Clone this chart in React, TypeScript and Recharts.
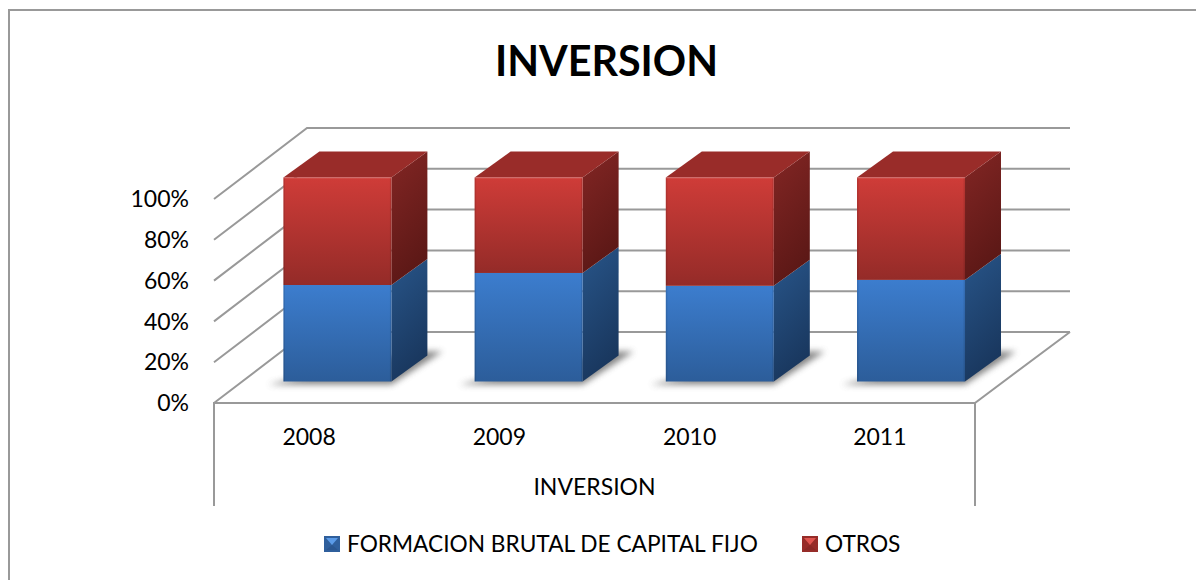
import React from "react";
import { BarChart, Bar, XAxis, YAxis, CartesianGrid, Legend } from "recharts";

const years = ["2008", "2009", "2010", "2011"];
const formacion = [47.3, 53.2, 46.9, 49.8];
const otros = [52.7, 46.8, 53.1, 50.2];
const yTicks = [0, 20, 40, 60, 80, 100];
const seriesNames = ["FORMACION BRUTAL DE CAPITAL FIJO", "OTROS"];
const titleText = "INVERSION";
const axisTitle = "INVERSION";

const rows = years.map((y, i) => ({ year: y, formacion: formacion[i], otros: otros[i] }));

const FONT = "Lato, Carlito, 'Open Sans', sans-serif";
const LINE = "#999999";
// Perspective of the box: wall depth, and how far into it the bars stand.
const WALL_DX = 93;
const WALL_DY = 71;
const BAR_SHIFT_X = 28.5;
const BAR_SHIFT_Y = 21.5;
const BAR_SPREAD = 0.005;
const BAR_DX = 36;
const BAR_DY = 26;

function Box(props: any) {
  const { x, y, width, height, tone, top } = props;
  const X = x + BAR_SHIFT_X + (x - 255) * BAR_SPREAD;
  const Y = y - BAR_SHIFT_Y;
  const R = X + width;
  const B = Y + height;
  return (
    <g>
      {tone === "blue" && (
        <polygon
          points={`${X - 15},${B + 3} ${R},${B + 3} ${R + BAR_DX + 15},${B - BAR_DY - 4} ${R + BAR_DX - 10},${B - BAR_DY - 4}`}
          fill="#666666"
          opacity={0.8}
          filter="url(#shadowBlur)"
        />
      )}
      <polygon
        points={`${R},${Y} ${R + BAR_DX},${Y - BAR_DY} ${R + BAR_DX},${B - BAR_DY} ${R},${B}`}
        fill={`url(#${tone}Side)`}
      />
      {top && (
        <polygon
          points={`${X},${Y} ${X + BAR_DX},${Y - BAR_DY} ${R + BAR_DX},${Y - BAR_DY} ${R},${Y}`}
          fill="#992c29"
        />
      )}
      <rect x={X} y={Y} width={width} height={height} fill={`url(#${tone}Front)`} />
      <rect x={X} y={Y} width={1.5} height={height} fill="#000" opacity={0.1} />
      <rect x={R - 1.5} y={Y} width={1.5} height={height} fill="#000" opacity={0.1} />
      {top && <rect x={X} y={Y} width={width} height={1.5} fill="#ffffff" opacity={0.08} />}
    </g>
  );
}

const BlueBox = (p: any) => <Box {...p} tone="blue" />;
const RedBox = (p: any) => <Box {...p} tone="red" top />;

function WallLine(props: any) {
  const { x1, y1, x2, y2, index } = props;
  const isFloor = index === 0 || Math.abs(y1 - props.offset?.top - props.offset?.height) < 0.5;
  return (
    <g>
      <polyline
        points={`${x1},${y1} ${x1 + WALL_DX},${y1 - WALL_DY} ${x2 + WALL_DX + 2},${y2 - WALL_DY}`}
        fill="none"
        stroke={LINE}
        strokeWidth={2}
      />
      {isFloor && (
        <polyline
          points={`${x1},${y1 + 103} ${x1},${y1} ${x2},${y1} ${x2},${y1 + 103} ${x2},${y1} ${x2 + WALL_DX + 2},${y1 - WALL_DY}`}
          fill="none"
          stroke={LINE}
          strokeWidth={2}
        />
      )}
    </g>
  );
}

function LegendSwatch({ c1, c2, c3 }: { c1: string; c2: string; c3: string }) {
  return (
    <svg width={16} height={16} style={{ marginRight: 7, flex: "none" }}>
      <rect width={16} height={16} fill={c2} />
      <polygon points="2,2 14,2 8,9" fill={c1} />
      <polygon points="2,14 14,14 8,9" fill={c3} />
    </svg>
  );
}

function LegendBody() {
  return (
    <div style={{ display: "flex", alignItems: "center", fontFamily: FONT, fontSize: 22.7, color: "#000", whiteSpace: "nowrap" }}>
      <LegendSwatch c1="#5b9be8" c2="#2f5f9c" c3="#2a5690" />
      <span style={{ display: "inline-block", width: 455 }}>{seriesNames[0]}</span>
      <LegendSwatch c1="#e05550" c2="#962c29" c3="#8a2826" />
      <span>{seriesNames[1]}</span>
    </div>
  );
}

export default function App() {
  return (
    <div style={{ position: "absolute", left: 0, top: 0, width: 1196, height: 580, background: "#fff", overflow: "hidden" }}>
      <div style={{ position: "absolute", left: 8, top: 9, width: 1188, height: 571, borderLeft: "2px solid #999", borderTop: "2px solid #999", boxSizing: "border-box" }} />
      <div style={{ position: "absolute", left: 0, width: 1213, top: 34, textAlign: "center", fontFamily: FONT, fontWeight: 700, fontSize: 41.3, lineHeight: "52px", color: "#000" }}>
        {titleText}
      </div>
      <div style={{ position: "absolute", left: 0, top: 0 }}>
        <BarChart
          width={1196}
          height={580}
          data={rows}
          barCategoryGap="21.5%"
          margin={{ left: 154, right: 221, top: 199, bottom: 90 }}
        >
          <defs>
            <linearGradient id="blueFront" x1="0" y1="0" x2="0" y2="1">
              <stop offset="0" stopColor="#3c7dce" />
              <stop offset="1" stopColor="#2c5d9a" />
            </linearGradient>
            <linearGradient id="redFront" x1="0" y1="0" x2="0" y2="1">
              <stop offset="0" stopColor="#cf3c38" />
              <stop offset="1" stopColor="#942b28" />
            </linearGradient>
            <linearGradient id="blueSide" x1="0" y1="0" x2="0.3" y2="1">
              <stop offset="0" stopColor="#285589" />
              <stop offset="1" stopColor="#19375e" />
            </linearGradient>
            <linearGradient id="redSide" x1="0" y1="0" x2="0.3" y2="1">
              <stop offset="0" stopColor="#832624" />
              <stop offset="1" stopColor="#5c1816" />
            </linearGradient>
            <filter id="shadowBlur" x="-30%" y="-50%" width="160%" height="200%">
              <feGaussianBlur stdDeviation="3" />
            </filter>
          </defs>
          <CartesianGrid vertical={false} horizontal={(p: any) => <WallLine {...p} />} />
          <XAxis
            dataKey="year"
            axisLine={false}
            tickLine={false}
            height={60}
            tickMargin={20}
            interval={0}
            tick={{ fill: "#000", fontSize: 23, fontFamily: FONT }}
            label={{ value: axisTitle, position: "insideBottom", offset: -32, fill: "#000", fontSize: 23, fontFamily: FONT }}
          />
          <YAxis
            width={60}
            domain={[0, 100]}
            ticks={yTicks}
            tickFormatter={(v: number) => `${v}%`}
            axisLine={false}
            tickLine={false}
            tickMargin={19}
            interval={0}
            tick={{ fill: "#000", fontSize: 23, fontFamily: FONT }}
          />
          <Legend content={<LegendBody />} wrapperStyle={{ position: "absolute", left: 324, top: 530, width: "auto", bottom: "auto" }} />
          <Bar dataKey="formacion" name={seriesNames[0]} stackId="a" shape={BlueBox} isAnimationActive={false} />
          <Bar dataKey="otros" name={seriesNames[1]} stackId="a" shape={RedBox} isAnimationActive={false} />
        </BarChart>
      </div>
    </div>
  );
}
